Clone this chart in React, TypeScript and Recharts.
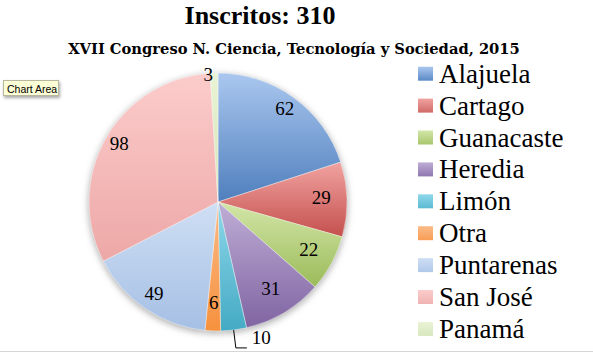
import React from "react";
import { PieChart, Pie, Cell, Legend } from "recharts";

const categories = [
  "Alajuela",
  "Cartago",
  "Guanacaste",
  "Heredia",
  "Limón",
  "Otra",
  "Puntarenas",
  "San José",
  "Panamá",
];
const values = [62, 29, 22, 31, 10, 6, 49, 98, 3];

// gradient stops, light at top -> dark at bottom
const lightColors = [
  "#aac7ef",
  "#f1a3a1",
  "#d3e6a8",
  "#bfaed6",
  "#8fd8ea",
  "#fbbb88",
  "#cfdff4",
  "#fbcccb",
  "#eaf3d6",
];
const darkColors = [
  "#4f7fbd",
  "#c4504d",
  "#9bbb59",
  "#8064a2",
  "#44aac4",
  "#f6913e",
  "#a5bfe4",
  "#eda8a7",
  "#d3e4b5",
];
const legendColors = [
  "#5a8ac6",
  "#d06a67",
  "#a8c66c",
  "#8f76b0",
  "#5bbad2",
  "#f89d55",
  "#b0c8ea",
  "#efb3b2",
  "#d7e7bd",
];

const outsideLabels = ["Limón"];

const data = categories.map((name, i) => ({ name, value: values[i] }));

const FONT = "Liberation Serif, Times New Roman, serif";
const RAD = Math.PI / 180;

function renderLabel(props: any) {
  const { cx, cy, midAngle, outerRadius, value, name } = props;
  const cos = Math.cos(-midAngle * RAD);
  const sin = Math.sin(-midAngle * RAD);
  if (outsideLabels.includes(name)) {
    const sx = cx + outerRadius * cos;
    const sy = cy + outerRadius * sin;
    const mx = cx + (outerRadius + 18) * cos;
    const my = cy + (outerRadius + 18) * sin;
    const ex = mx + 11;
    return (
      <g>
        <polyline
          points={`${sx},${sy} ${mx},${my} ${ex},${my}`}
          fill="none"
          stroke="#000"
          strokeWidth={1}
        />
        <text
          x={ex + 5}
          y={my - 8}
          fontFamily={FONT}
          fontSize={19}
          fill="#000"
          dominantBaseline="middle"
        >
          {value}
        </text>
      </g>
    );
  }
  const f = value < 5 ? 0.97 : value > 40 ? 0.88 : 0.8;
  const x = cx + outerRadius * f * cos;
  const y = cy + outerRadius * f * sin;
  return (
    <text
      x={x - (value < 5 ? 6 : 0)}
      y={y}
      fontFamily={FONT}
      fontSize={19}
      fill="#000"
      textAnchor="middle"
      dominantBaseline="middle"
    >
      {value}
    </text>
  );
}

function LegendContent() {
  return (
    <svg width={180} height={300}>
      <defs>
        {categories.map((c, i) => (
          <linearGradient key={c} id={`lg${i}`} x1="0" y1="0" x2="0" y2="1">
            <stop offset="0%" stopColor={lightColors[i]} />
            <stop offset="100%" stopColor={legendColors[i]} />
          </linearGradient>
        ))}
      </defs>
      {categories.map((c, i) => (
        <g key={c} transform={`translate(0, ${17.7 + i * 31.9})`}>
          <rect x={1} y={-7} width={15} height={14} fill={`url(#lg${i})`} />
          <text x={22} y={9} fontFamily={FONT} fontSize={27} fill="#000">
            {c}
          </text>
        </g>
      ))}
    </svg>
  );
}

export default function App() {
  return (
    <div
      style={{
        position: "absolute",
        left: 0,
        top: 0,
        width: 593,
        height: 354,
        background: "#fff",
        overflow: "hidden",
      }}
    >
      <div
        style={{
          position: "absolute",
          left: 0,
          width: 520,
          top: 1,
          textAlign: "center",
          fontFamily: FONT,
          fontWeight: "bold",
          fontSize: 26,
        }}
      >
        Inscritos: 310
      </div>
      <div
        style={{
          position: "absolute",
          left: 0,
          width: 588,
          top: 40,
          textAlign: "center",
          fontFamily: "DejaVu Serif, serif",
          fontWeight: "bold",
          fontSize: 14.7,
        }}
      >
        XVII Congreso N. Ciencia, Tecnología y Sociedad, 2015
      </div>
      <PieChart width={593} height={354} style={{ position: "absolute", left: 0, top: 0 }}>
        <defs>
          {categories.map((c, i) => (
            <linearGradient key={c} id={`g${i}`} x1="0" y1="0" x2="0" y2="1">
              <stop offset="0%" stopColor={lightColors[i]} />
              <stop offset="100%" stopColor={darkColors[i]} />
            </linearGradient>
          ))}
          <filter id="shadow" x="-20%" y="-20%" width="140%" height="140%">
            <feGaussianBlur stdDeviation="3" />
          </filter>
        </defs>
        <Pie
          data={data}
          dataKey="value"
          nameKey="name"
          cx={213}
          cy={199}
          outerRadius={130}
          startAngle={90}
          endAngle={-270}
          stroke="none"
          isAnimationActive={false}
          legendType="none"
        >
          {data.map((d) => (
            <Cell key={d.name} fill="#888" fillOpacity={0.6} filter="url(#shadow)" />
          ))}
        </Pie>
        <Pie
          data={data}
          dataKey="value"
          nameKey="name"
          cx={213}
          cy={197}
          outerRadius={129}
          startAngle={90}
          endAngle={-270}
          stroke="#ffffff"
          strokeWidth={0.4}
          label={renderLabel}
          labelLine={false}
          isAnimationActive={false}
        >
          {data.map((d, i) => (
            <Cell key={d.name} fill={`url(#g${i})`} />
          ))}
        </Pie>
        <Legend
          layout="vertical"
          content={<LegendContent />}
          wrapperStyle={{ position: "absolute", left: 417, top: 56, width: 180 }}
        />
      </PieChart>
      <div
        style={{
          position: "absolute",
          left: 3,
          top: 80,
          width: 56,
          height: 16,
          background: "#fdfdd5",
          border: "1px solid #b8b8a0",
          boxShadow: "1px 2px 3px rgba(0,0,0,0.35)",
          fontFamily: "Liberation Sans, Arial, sans-serif",
          fontSize: 10.5,
          lineHeight: "16px",
          paddingLeft: 3,
          boxSizing: "border-box",
          whiteSpace: "nowrap",
        }}
      >
        Chart Area
      </div>
      <div
        style={{
          position: "absolute",
          left: 0,
          top: 351,
          width: 593,
          height: 1,
          background: "#d6d6d6",
        }}
      />
    </div>
  );
}
